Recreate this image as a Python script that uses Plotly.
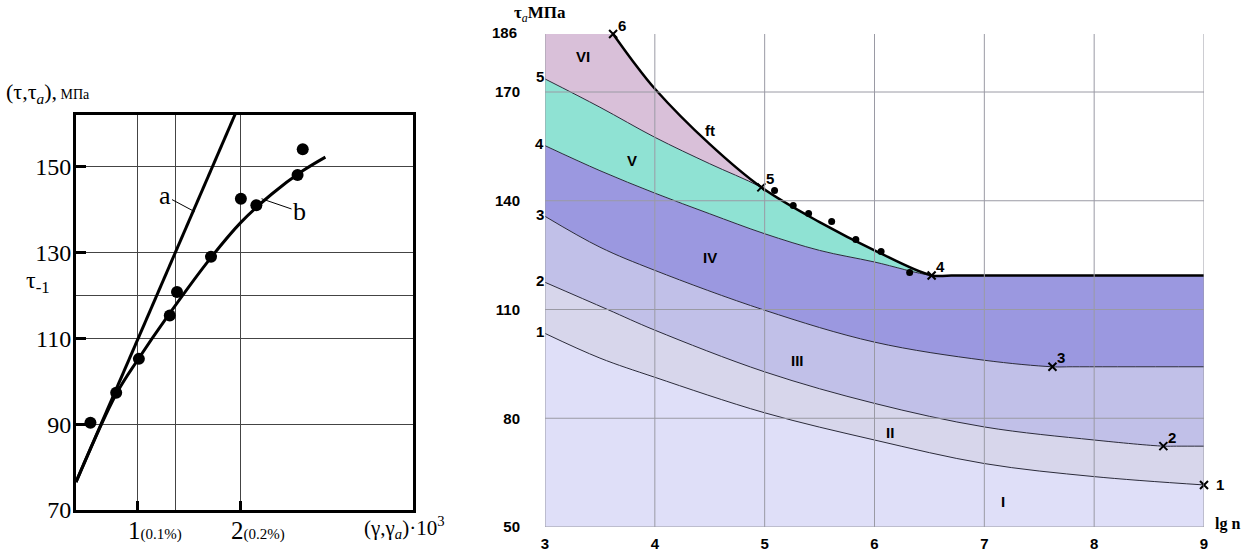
import plotly.graph_objects as go

# ---------------- left panel data ----------------
left_x_ticks = [1, 2]
left_x_ticknum = ["1", "2"]
left_x_ticksub = ["(0.1%)", "(0.2%)"]
left_y_ticks = [70, 90, 110, 130, 150]
left_grid_x_extra = [1.37]
left_grid_y_extra = [120]
left_x_range = [0.4, 3.67]
left_y_range = [70, 162]

dots_x = [0.54, 0.79, 1.01, 1.31, 1.38, 1.71, 2.0, 2.15, 2.55, 2.60]
dots_y = [90.3, 97.3, 105.2, 115.3, 120.8, 129.0, 142.5, 141.0, 148.0, 154.0]

line_a_x = [0.4, 1.95]
line_a_y = [76.5, 162.5]
line_b_x = [0.4, 0.79, 1.0, 1.3, 1.7, 2.0, 2.3, 2.6, 2.82]
line_b_y = [76.5, 97.0, 105.0, 115.5, 128.5, 137.0, 143.6, 149.0, 152.2]

# ---------------- right panel data ----------------
lg_ticks = [3, 4, 5, 6, 7, 8, 9]
tau_ticks = [50, 80, 110, 140, 170]
tau_max = 186

c1x = [3, 3.5, 4, 5, 6, 7, 8, 9]
c1y = [103.4, 96.6, 91.3, 81.5, 74.0, 67.5, 63.9, 61.6]
c2x = [3, 3.57, 4, 5, 6, 7, 8, 8.63, 8.75, 9]
c2y = [117.5, 110.0, 104.3, 92.8, 84.1, 77.6, 74.0, 72.3, 72.3, 72.3]
c3x = [3, 3.5, 4, 5, 6, 7, 7.62, 7.8, 9]
c3y = [135.7, 127.2, 120.8, 109.8, 101.0, 96.0, 94.2, 94.2, 94.2]
c4x = [3, 3.5, 4, 4.5, 5, 5.5, 6, 6.52, 6.7, 9]
c4y = [155.2, 148.3, 142.1, 136.4, 130.9, 126.3, 123.1, 119.4, 119.4, 119.4]
c5x = [3, 3.5, 4, 4.5, 4.97]
c5y = [173.6, 165.8, 157.5, 150.2, 143.7]
ftx = [3.62, 3.8, 4.0, 4.5, 4.97, 5.5, 6.0, 6.52, 6.7, 9]
fty = [186.0, 178.5, 170.9, 155.6, 143.7, 134.1, 126.3, 119.4, 119.4, 119.4]

pts_x = [9, 8.63, 7.62, 6.52, 4.97, 3.62]
pts_y = [61.6, 72.3, 94.2, 119.4, 143.7, 186.0]
pts_lbl = ["1", "2", "3", "4", "5", "6"]

test_x = [5.09, 5.26, 5.40, 5.61, 5.83, 6.06, 6.32]
test_y = [142.8, 138.7, 136.5, 134.3, 129.3, 126.0, 120.2]

reg_lbl = ["I", "II", "III", "IV", "V", "VI", "ft"]
reg_x = [7.17, 6.14, 5.30, 4.50, 3.79, 3.35, 4.50]
reg_y = [56.9, 76.2, 96.0, 124.4, 151.1, 179.8, 159.4]

col_I, col_II, col_III = "#dfdff8", "#d7d6eb", "#c1c0e8"
col_IV, col_V, col_VI = "#9b98e0", "#8fe2d3", "#d9c0d9"

SERIF = "Liberation Serif, Times New Roman, serif"
SANS = "Liberation Sans, Arial, sans-serif"

fig = go.Figure()

# ---------------- left panel traces ----------------
fig.add_trace(go.Scatter(x=line_a_x, y=line_a_y, mode="lines",
                         line=dict(color="black", width=3), xaxis="x", yaxis="y"))
fig.add_trace(go.Scatter(x=line_b_x, y=line_b_y, mode="lines", line_shape="spline",
                         line=dict(color="black", width=3), xaxis="x", yaxis="y"))
fig.add_trace(go.Scatter(x=dots_x, y=dots_y, mode="markers",
                         marker=dict(color="black", size=12), xaxis="x", yaxis="y"))

# ---------------- right panel fills ----------------
thin = dict(color="#2a2a3a", width=1)
fig.add_trace(go.Scatter(x=c1x, y=c1y, mode="lines", line=thin, line_shape="spline",
                         fill="tozeroy", fillcolor=col_I, xaxis="x2", yaxis="y2"))
fig.add_trace(go.Scatter(x=c2x, y=c2y, mode="lines", line=thin, line_shape="spline",
                         fill="tonexty", fillcolor=col_II, xaxis="x2", yaxis="y2"))
fig.add_trace(go.Scatter(x=c3x, y=c3y, mode="lines", line=thin, line_shape="spline",
                         fill="tonexty", fillcolor=col_III, xaxis="x2", yaxis="y2"))
fig.add_trace(go.Scatter(x=c4x, y=c4y, mode="lines", line=thin, line_shape="spline",
                         fill="tonexty", fillcolor=col_IV, xaxis="x2", yaxis="y2"))
up5x = c5x + ftx[5:]
up5y = c5y + fty[5:]
fig.add_trace(go.Scatter(x=up5x, y=up5y, mode="lines", line=thin, line_shape="spline",
                         fill="tonexty", fillcolor=col_V, xaxis="x2", yaxis="y2"))
fig.add_trace(go.Scatter(x=[lg_ticks[0], lg_ticks[-1]], y=[tau_max, tau_max], mode="lines",
                         line=dict(width=0), fill="tonexty", fillcolor=col_VI,
                         xaxis="x2", yaxis="y2"))
# white area above ft
fig.add_trace(go.Scatter(x=ftx, y=fty, mode="lines", line_shape="spline",
                         line=dict(width=0, color="black"), xaxis="x2", yaxis="y2"))
fig.add_trace(go.Scatter(x=[ftx[0], lg_ticks[-1]], y=[tau_max, tau_max], mode="lines",
                         line=dict(width=0), fill="tonexty", fillcolor="white",
                         xaxis="x2", yaxis="y2"))
# ft line
fig.add_trace(go.Scatter(x=ftx, y=fty, mode="lines", line_shape="spline",
                         line=dict(width=2.5, color="black"), xaxis="x2", yaxis="y2"))
# test dots and critical points
fig.add_trace(go.Scatter(x=test_x, y=test_y, mode="markers",
                         marker=dict(color="black", size=7), xaxis="x2", yaxis="y2"))
fig.add_trace(go.Scatter(x=pts_x, y=pts_y, mode="markers", cliponaxis=False,
                         marker=dict(symbol="x-thin", size=8, line=dict(color="black", width=2)),
                         xaxis="x2", yaxis="y2"))

# gridlines on right panel drawn above fills
for v in lg_ticks:
    fig.add_shape(type="line", xref="x2", yref="y2", x0=v, x1=v, y0=tau_ticks[0], y1=tau_max,
                  line=dict(color="#9a9aa4", width=1), layer="above")
for v in tau_ticks:
    fig.add_shape(type="line", xref="x2", yref="y2", x0=lg_ticks[0], x1=lg_ticks[-1], y0=v, y1=v,
                  line=dict(color="#9a9aa4", width=1), layer="above")

ann = []
# left x tick labels
for v, n, s in zip(left_x_ticks, left_x_ticknum, left_x_ticksub):
    ann.append(dict(x=v, y=left_y_range[0], xref="x", yref="y", showarrow=False,
                    xanchor="left", yanchor="middle", xshift=-12, yshift=-20,
                    text=f"{n}<span style='font-size:15px'>{s}</span>",
                    font=dict(family=SERIF, size=25, color="black")))
# a / b labels
ann.append(dict(x=1.55, y=139.5, xref="x", yref="y", text="a", showarrow=True, arrowhead=0,
                arrowwidth=1, arrowcolor="black", ax=-30, ay=-16,
                font=dict(family=SERIF, size=26, color="black")))
ann.append(dict(x=2.2, y=142.5, xref="x", yref="y", text="b", showarrow=True, arrowhead=0,
                arrowwidth=1, arrowcolor="black", ax=38, ay=13,
                font=dict(family=SERIF, size=26, color="black")))
# left titles
ann.append(dict(x=4 / 1253, y=1 - 93 / 552, xref="paper", yref="paper", showarrow=False,
                xanchor="left", yanchor="middle",
                text="(τ,τ<sub><i>a</i></sub>),<span style='font-size:14px'> МПа</span>",
                font=dict(family=SERIF, size=22, color="black")))
ann.append(dict(x=24 / 1253, y=1 - 282 / 552, xref="paper", yref="paper", showarrow=False,
                xanchor="left", yanchor="middle", text="τ<sub>-1</sub>",
                font=dict(family=SERIF, size=24, color="black")))
ann.append(dict(x=362 / 1253, y=1 - 527 / 552, xref="paper", yref="paper", showarrow=False,
                xanchor="left", yanchor="middle",
                text="(γ,γ<sub><i>a</i></sub>)·10<sup>3</sup>",
                font=dict(family=SERIF, size=21, color="black")))

# right: region labels
for t, x, y in zip(reg_lbl, reg_x, reg_y):
    ann.append(dict(x=x, y=y, xref="x2", yref="y2", text=t, showarrow=False,
                    font=dict(family=SANS, size=15, color="black", weight="bold")))
# curve start labels
for i, cy in enumerate([c1y, c2y, c3y, c4y, c5y]):
    ann.append(dict(x=lg_ticks[0], y=cy[0], xref="x2", yref="y2", text=str(i + 1),
                    showarrow=False, xanchor="right", yanchor="middle", xshift=1, yshift=2,
                    font=dict(family=SANS, size=15, color="black", weight="bold")))
# critical point labels
for x, y, t in zip(pts_x, pts_y, pts_lbl):
    if t == "1":
        xs, ys = 16, 0
    else:
        xs, ys = 9, 9
    ann.append(dict(x=x, y=y, xref="x2", yref="y2", text=t, showarrow=False,
                    xshift=xs, yshift=ys,
                    font=dict(family=SANS, size=15, color="black", weight="bold")))
# 186 label
ann.append(dict(x=lg_ticks[0], y=tau_max, xref="x2", yref="y2", text=str(tau_max),
                showarrow=False, xanchor="right", yanchor="middle", xshift=-26, yshift=2,
                font=dict(family=SANS, size=15, color="black", weight="bold")))
ann.append(dict(x=512 / 1253, y=1 - 14 / 552, xref="paper", yref="paper", showarrow=False,
                xanchor="left", yanchor="middle",
                text="<b>τ</b><sub><i>a</i></sub><b>МПа</b>",
                font=dict(family=SERIF, size=17, color="black")))
ann.append(dict(x=1213 / 1253, y=1 - 524 / 552, xref="paper", yref="paper", showarrow=False,
                xanchor="left", yanchor="middle", text="<b>lg n</b>",
                font=dict(family=SERIF, size=16, color="black")))

fig.update_layout(
    width=1253, height=552, autosize=False,
    margin=dict(l=0, r=0, t=0, b=0, autoexpand=False),
    paper_bgcolor="white", plot_bgcolor="white",
    showlegend=False,
    annotations=ann,
    xaxis=dict(domain=[76 / 1253, 413 / 1253], range=left_x_range, anchor="y", automargin=False,
               showline=True, linewidth=3, linecolor="black", mirror=True,
               ticks="inside", ticklen=9, tickwidth=3, tickcolor="black",
               tickvals=left_x_ticks, showticklabels=False,
               showgrid=True, gridcolor="#444", gridwidth=1, zeroline=False,
               minor=dict(tickvals=left_grid_x_extra, showgrid=True, gridcolor="#444",
                          gridwidth=1, ticks="")),
    yaxis=dict(domain=[1 - 510 / 552, 1 - 115 / 552], range=left_y_range, anchor="x", automargin=False,
               showline=True, linewidth=3, linecolor="black", mirror=True,
               ticks="inside", ticklen=10, tickwidth=3, tickcolor="black",
               tickvals=left_y_ticks, ticklabelstandoff=-3,
               tickfont=dict(family=SERIF, size=24, color="black"),
               showgrid=True, gridcolor="#444", gridwidth=1, zeroline=False,
               minor=dict(tickvals=left_grid_y_extra, showgrid=True, gridcolor="#444",
                          gridwidth=1, ticks="")),
    xaxis2=dict(domain=[545 / 1253, 1204 / 1253], range=[lg_ticks[0], lg_ticks[-1]], anchor="y2",
                automargin=False,
                showline=False, showgrid=False, zeroline=False, ticks="",
                tickvals=lg_ticks, ticklabelstandoff=6,
                tickfont=dict(family=SANS, size=15, color="black", weight="bold")),
    yaxis2=dict(domain=[1 - 527 / 552, 1 - 34 / 552], range=[tau_ticks[0], tau_max], anchor="x2",
                automargin=False,
                showline=False, showgrid=False, zeroline=False, ticks="",
                tickvals=tau_ticks, ticklabelstandoff=24,
                tickfont=dict(family=SANS, size=15, color="black", weight="bold")),
)

fig.write_html("out.html")
